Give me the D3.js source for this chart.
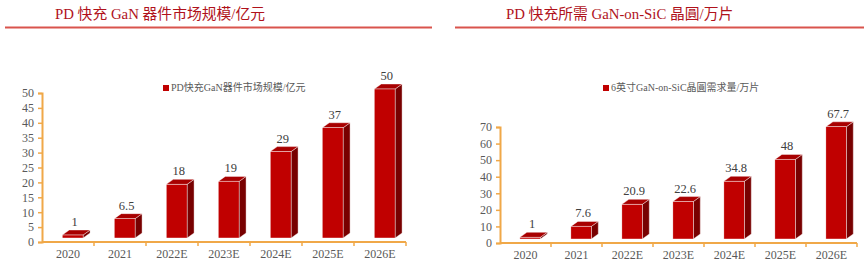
<!DOCTYPE html>
<html>
<head>
<meta charset="utf-8">
<script src="https://cdn.jsdelivr.net/npm/d3@7"></script>
<style>
  body { margin: 0; background: #fff; }
  svg { display: block; }
  text { font-family: "Liberation Serif", "Noto Sans CJK SC", serif; }
</style>
</head>
<body>
<svg id="chart" width="864" height="271"></svg>
<script>
'use strict';
// data
const years = ['2020', '2021', '2022E', '2023E', '2024E', '2025E', '2026E'];
const marketSize = [1, 6.5, 18, 19, 29, 37, 50];
const waferDemand = [1, 7.6, 20.9, 22.6, 34.8, 48, 67.7];
const ticksLeft = [0, 5, 10, 15, 20, 25, 30, 35, 40, 45, 50];
const ticksRight = [0, 10, 20, 30, 40, 50, 60, 70];
const titleLeft = 'PD 快充 GaN 器件市场规模/亿元';
const titleRight = 'PD 快充所需 GaN-on-SiC 晶圓/万片';
const legendLeft = 'PD快充GaN器件市场规模/亿元';
const legendRight = '6英寸GaN-on-SiC晶圓需求量/万片';

const svg = d3.select('#chart');
const colors = {
    title: '#b0121b',
    rule: '#d9544d',
    axis: '#f0a848',
    text: '#595959',
    front: '#c00000',
    top: '#a80000',
    side: '#780000'
};

function header(x, lineX0, lineX1, label) {
    svg.append('text')
        .attr('x', x).attr('y', 19)
        .attr('fill', colors.title)
        .style('font-size', '14.8px')
        .text(label);
    svg.append('line')
        .attr('x1', lineX0).attr('x2', lineX1)
        .attr('y1', 27.5).attr('y2', 27.5)
        .attr('stroke', colors.rule)
        .attr('stroke-width', 2);
}

function panel(p) {
    var x = d3.scaleBand().domain(years).range([p.x0, p.x1]);
    var y = d3.scaleLinear().domain([0, p.max]).range([p.y0, p.y1]);
    var g = svg.append('g');
    var bw = x.bandwidth();
    var dx = 7, dy = 5, lift = 4;

    // y axis
    var ya = g.append('g')
        .attr('transform', 'translate(' + p.x0 + ',0)')
        .call(d3.axisLeft(y).tickValues(p.ticks).tickSize(4).tickPadding(4));
    ya.select('.domain').attr('stroke', colors.axis).attr('stroke-width', 2);
    ya.selectAll('.tick line').attr('stroke', colors.axis).attr('stroke-width', 1.5);
    ya.selectAll('.tick text')
        .attr('fill', colors.text)
        .style('font-size', '12px')
        .style('font-family', '"Liberation Serif", serif');

    // x axis: line + boundary ticks
    g.append('line')
        .attr('x1', p.x0).attr('x2', p.x1)
        .attr('y1', p.y0).attr('y2', p.y0)
        .attr('stroke', colors.axis).attr('stroke-width', 2);
    g.selectAll('.xtick').data(years.slice(1).concat(['end']))
        .enter().append('line')
        .attr('x1', (d, i) => p.x0 + (i + 1) * bw)
        .attr('x2', (d, i) => p.x0 + (i + 1) * bw)
        .attr('y1', p.y0).attr('y2', p.y0 + 4)
        .attr('stroke', colors.axis).attr('stroke-width', 1.5);
    g.selectAll('.xlab').data(years)
        .enter().append('text')
        .attr('x', d => x(d) + bw / 2)
        .attr('y', p.y0 + 16)
        .attr('text-anchor', 'middle')
        .attr('fill', colors.text)
        .style('font-size', '12px')
        .text(d => d);

    // bars (fake 3d)
    var bars = g.selectAll('.bar').data(p.values.map((v, i) => ({ k: years[i], v: v })))
        .enter().append('g');
    function fx(d) { return x(d.k) + bw * 0.5 - bw * 0.11; }
    var fw = bw * 0.4;
    function fb() { return p.y0 - lift; }
    function ft(d) { return y(d.v) - lift; }
    bars.append('path')
        .attr('fill', colors.side)
        .attr('stroke', '#fff').attr('stroke-width', 0.4)
        .attr('d', d => 'M' + (fx(d) + fw) + ',' + fb() +
            'L' + (fx(d) + fw + dx) + ',' + (fb() - dy) +
            'L' + (fx(d) + fw + dx) + ',' + (ft(d) - dy) +
            'L' + (fx(d) + fw) + ',' + ft(d) + 'Z');
    bars.append('path')
        .attr('fill', colors.top)
        .attr('stroke', '#fff').attr('stroke-width', 0.4)
        .attr('d', d => 'M' + fx(d) + ',' + ft(d) +
            'L' + (fx(d) + dx) + ',' + (ft(d) - dy) +
            'L' + (fx(d) + fw + dx) + ',' + (ft(d) - dy) +
            'L' + (fx(d) + fw) + ',' + ft(d) + 'Z');
    bars.append('rect')
        .attr('fill', colors.front)
        .attr('stroke', '#fff').attr('stroke-width', 0.4)
        .attr('x', fx).attr('width', fw)
        .attr('y', ft).attr('height', d => fb() - ft(d));
    bars.append('text')
        .attr('x', d => fx(d) + fw / 2 + 2)
        .attr('y', d => ft(d) - dy - 4)
        .attr('text-anchor', 'middle')
        .attr('fill', '#404040')
        .style('font-size', '12.5px')
        .text(d => d.v);

    // legend
    svg.append('rect')
        .attr('x', p.legX).attr('y', p.legY - 6)
        .attr('width', 6).attr('height', 6)
        .attr('fill', colors.front);
    svg.append('text')
        .attr('x', p.legX + 8).attr('y', p.legY)
        .attr('fill', colors.text)
        .style('font-size', '10px')
        .text(p.legend);
}

header(55, 5, 432, titleLeft);
header(506, 455, 864, titleRight);

panel({ x0: 42, x1: 406, y0: 242, y1: 93, max: 50, ticks: ticksLeft,
        values: marketSize, legend: legendLeft, legX: 163, legY: 91 });
panel({ x0: 500, x1: 857, y0: 243, y1: 127, max: 70, ticks: ticksRight,
        values: waferDemand, legend: legendRight, legX: 603, legY: 91 });
</script>
</body>
</html>
